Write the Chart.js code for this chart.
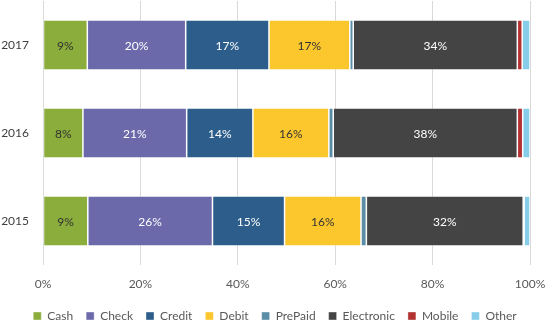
<!DOCTYPE html>
<html>
<head>
<meta charset="utf-8">
<script src="https://cdn.jsdelivr.net/npm/chart.js@4"></script>
<style>
html,body{margin:0;padding:0;background:#fff;}
#wrap{width:550px;height:327px;position:relative;}
</style>
</head>
<body>
<div id="wrap"><canvas id="c"></canvas></div>
<script>
const years = ['2017', '2016', '2015'];
const seriesNames = ['Cash', 'Check', 'Credit', 'Debit', 'PrePaid', 'Electronic', 'Mobile', 'Other'];
const cash = [9.1, 8.2, 9.2];
const check = [20.2, 21.3, 25.6];
const credit = [17.1, 13.6, 14.8];
const debit = [16.6, 15.6, 15.7];
const prepaid = [0.7, 0.9, 1.1];
const electronic = [33.7, 37.8, 32.2];
const mobile = [1.0, 1.1, 0.2];
const other = [1.6, 1.5, 1.2];
const xTicks = [0, 20, 40, 60, 80, 100];

const seriesValues = [cash, check, credit, debit, prepaid, electronic, mobile, other];
const colors = ['#8aad3c', '#6c69aa', '#2d5d8a', '#fcc62d', '#5b8da6', '#444444', '#b23131', '#87cde9'];
const labelColors = ['#333333', '#ffffff', '#ffffff', '#333333', '#ffffff', '#ffffff', '#ffffff', '#ffffff'];

const FONT = 'Lato, "Liberation Sans", sans-serif';

const datasets = seriesNames.map((name, i) => ({
  label: name,
  data: seriesValues[i],
  backgroundColor: colors[i],
  borderColor: 'rgba(255,255,255,0.5)',
  borderWidth: 0.75,
  borderSkipped: false,
  barPercentage: 0.57,
  categoryPercentage: 1.0
}));

const barLabels = {
  id: 'barLabels',
  afterDatasetsDraw(chart) {
    const ctx = chart.ctx;
    ctx.save();
    ctx.font = '12px ' + FONT;
    ctx.textAlign = 'center';
    ctx.textBaseline = 'middle';
    chart.data.datasets.forEach((ds, di) => {
      const meta = chart.getDatasetMeta(di);
      meta.data.forEach((bar, i) => {
        const v = ds.data[i];
        if (v < 5) return;
        const cx = (bar.x + bar.base) / 2;
        ctx.fillStyle = labelColors[di];
        ctx.fillText(Math.round(v) + '%', cx, bar.y + 1);
      });
    });
    ctx.restore();
  }
};

new Chart(document.getElementById('c'), {
  type: 'bar',
  data: { labels: years, datasets },
  plugins: [barLabels],
  options: {
    indexAxis: 'y',
    responsive: true,
    maintainAspectRatio: false,
    animation: false,
    layout: { padding: { top: 1, left: 0, right: 0, bottom: -5 } },
    plugins: {
      tooltip: { enabled: false },
      legend: {
        position: 'bottom',
        labels: {
          boxWidth: 8,
          boxHeight: 8,
          padding: 13,
          color: '#595959',
          font: { family: FONT, size: 12 }
        }
      }
    },
    scales: {
      x: {
        stacked: true,
        min: 0,
        max: 100,
        afterBuildTicks(scale) { scale.ticks = xTicks.map(v => ({ value: v })); },
        afterFit(scale) {
          scale.paddingRight = 20;
          scale.paddingLeft = 0;
          scale.paddingTop = 0;
          scale.paddingBottom = 0;
          scale.height = 32;
        },
        grid: { color: '#d9d9d9', drawTicks: false, lineWidth: 1 },
        border: { display: false },
        ticks: {
          padding: 12,
          color: '#595959',
          font: { family: FONT, size: 12 },
          callback: (v) => v + '%'
        }
      },
      y: {
        stacked: true,
        afterFit(scale) {
          scale.width = 43;
          scale.paddingTop = 0;
          scale.paddingBottom = 0;
          scale.paddingLeft = 0;
          scale.paddingRight = 0;
        },
        grid: { display: false, drawTicks: false },
        border: { display: false },
        ticks: {
          padding: 14,
          color: '#404040',
          font: { family: FONT, size: 12 }
        }
      }
    }
  }
});
</script>
</body>
</html>
